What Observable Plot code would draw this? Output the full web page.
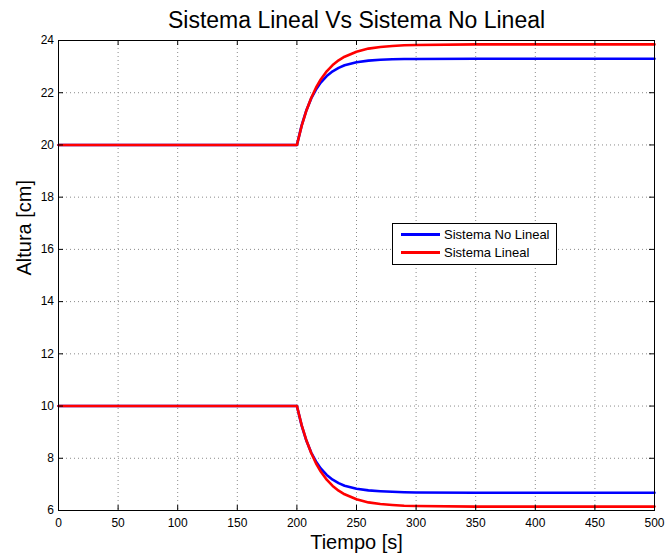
<!DOCTYPE html>
<html>
<head>
<meta charset="utf-8">
<script src="https://cdn.jsdelivr.net/npm/d3@7"></script>
<script src="https://cdn.jsdelivr.net/npm/@observablehq/plot@0.6"></script>
<style>
  html, body { margin: 0; padding: 0; background: #fff; }
  body { font-family: "Liberation Sans", Arial, Helvetica, sans-serif; }
  #wrap { position: relative; width: 665px; height: 555px; }
  #legend { position: absolute; left: 392px; top: 223px; width: 165px; height: 42px;
            border: 1px solid #000; background: #fff; box-sizing: border-box; font-size: 13px; color: #000; }
  .sw { position: absolute; left: 8px; width: 39px; height: 3px; }
  .lt { position: absolute; left: 51px; line-height: 16px; white-space: nowrap; }
</style>
</head>
<body>
<div id="wrap"></div>
<script>
// ---- data ----
const title = "Sistema Lineal Vs Sistema No Lineal";
const xLabel = "Tiempo [s]";
const yLabel = "Altura [cm]";
const seriesNames = ["Sistema No Lineal", "Sistema Lineal"];
const seriesColors = ["#0000ff", "#ff0000"];

const xTicks = [0, 50, 100, 150, 200, 250, 300, 350, 400, 450, 500];
const yTicks = [6, 8, 10, 12, 14, 16, 18, 20, 22, 24];

const time = [0, 200, 204, 208, 212, 216, 220, 225, 230, 235, 240, 250, 260, 270, 280, 290, 300, 350, 400, 500];
// upper tank level
const upperNoLineal = [20, 20, 20.75, 21.33, 21.78, 22.12, 22.39, 22.64, 22.82, 22.95, 23.05, 23.17, 23.23, 23.26, 23.28, 23.29, 23.29, 23.30, 23.30, 23.30];
const upperLineal   = [20, 20, 20.73, 21.32, 21.80, 22.19, 22.51, 22.82, 23.06, 23.24, 23.38, 23.57, 23.69, 23.75, 23.79, 23.82, 23.83, 23.85, 23.85, 23.85];
// lower tank level
const lowerNoLineal = [10, 10, 9.25, 8.67, 8.22, 7.88, 7.61, 7.36, 7.18, 7.05, 6.95, 6.83, 6.77, 6.74, 6.72, 6.70, 6.69, 6.68, 6.68, 6.68];
const lowerLineal   = [10, 10, 9.27, 8.68, 8.20, 7.81, 7.49, 7.18, 6.94, 6.76, 6.62, 6.43, 6.31, 6.25, 6.21, 6.18, 6.17, 6.15, 6.15, 6.15];

const toRows = (vals) => time.map((t, i) => ({t, v: vals[i]}));

const font = "Liberation Sans, Arial, Helvetica, sans-serif";
const gridStyle = {stroke: "#8a8a8a", strokeOpacity: 1, strokeWidth: 1, strokeDasharray: "1,3"};

const chart = Plot.plot({
  width: 665,
  height: 555,
  marginLeft: 58,
  marginRight: 11,
  marginTop: 40,
  marginBottom: 45,
  style: {fontFamily: font, fontSize: "12px", color: "#000", background: "#fff", overflow: "visible"},
  x: {domain: [0, 500]},
  y: {domain: [6, 24]},
  marks: [
    Plot.gridX(xTicks.slice(1, -1), gridStyle),
    Plot.gridY(yTicks.slice(1, -1), gridStyle),
    Plot.line(toRows(upperNoLineal), {x: "t", y: "v", stroke: seriesColors[0], strokeWidth: 2.6}),
    Plot.line(toRows(lowerNoLineal), {x: "t", y: "v", stroke: seriesColors[0], strokeWidth: 2.6}),
    Plot.line(toRows(upperLineal), {x: "t", y: "v", stroke: seriesColors[1], strokeWidth: 2.6}),
    Plot.line(toRows(lowerLineal), {x: "t", y: "v", stroke: seriesColors[1], strokeWidth: 2.6}),
    Plot.frame({stroke: "#000", strokeWidth: 1}),
    // inward tick marks on all four sides
    Plot.tickX(xTicks, {x: d => d, insetTop: 465, stroke: "#000"}),
    Plot.tickX(xTicks, {x: d => d, insetBottom: 465, stroke: "#000"}),
    Plot.tickY(yTicks, {y: d => d, insetRight: 591, stroke: "#000"}),
    Plot.tickY(yTicks, {y: d => d, insetLeft: 591, stroke: "#000"}),
    Plot.axisX(xTicks, {tickSize: 0, tickPadding: 8, label: null, tickFormat: d => String(d), fontSize: 12}),
    Plot.axisY(yTicks, {tickSize: 0, tickPadding: 4.5, label: null, tickFormat: d => String(d), fontSize: 12}),
    Plot.text([title], {frameAnchor: "top", dy: -13, lineAnchor: "bottom", fontSize: 23, fill: "#000"}),
    Plot.text([xLabel], {frameAnchor: "bottom", dy: 38, lineAnchor: "bottom", fontSize: 20, fill: "#000"}),
    Plot.text([yLabel], {frameAnchor: "left", dx: -28, rotate: -90, lineAnchor: "bottom", fontSize: 20, fill: "#000"})
  ]
});

const wrap = document.getElementById("wrap");
wrap.appendChild(chart);

// legend overlay
const legend = document.createElement("div");
legend.id = "legend";
const rowTops = [9, 27];
seriesNames.forEach((name, i) => {
  const sw = document.createElement("div");
  sw.className = "sw";
  sw.style.top = rowTops[i] + "px";
  sw.style.background = seriesColors[i];
  legend.appendChild(sw);
  const lt = document.createElement("div");
  lt.className = "lt";
  lt.style.top = (rowTops[i] + 1.5 - 8) + "px";
  lt.textContent = name;
  legend.appendChild(lt);
});
wrap.appendChild(legend);
</script>
</body>
</html>
